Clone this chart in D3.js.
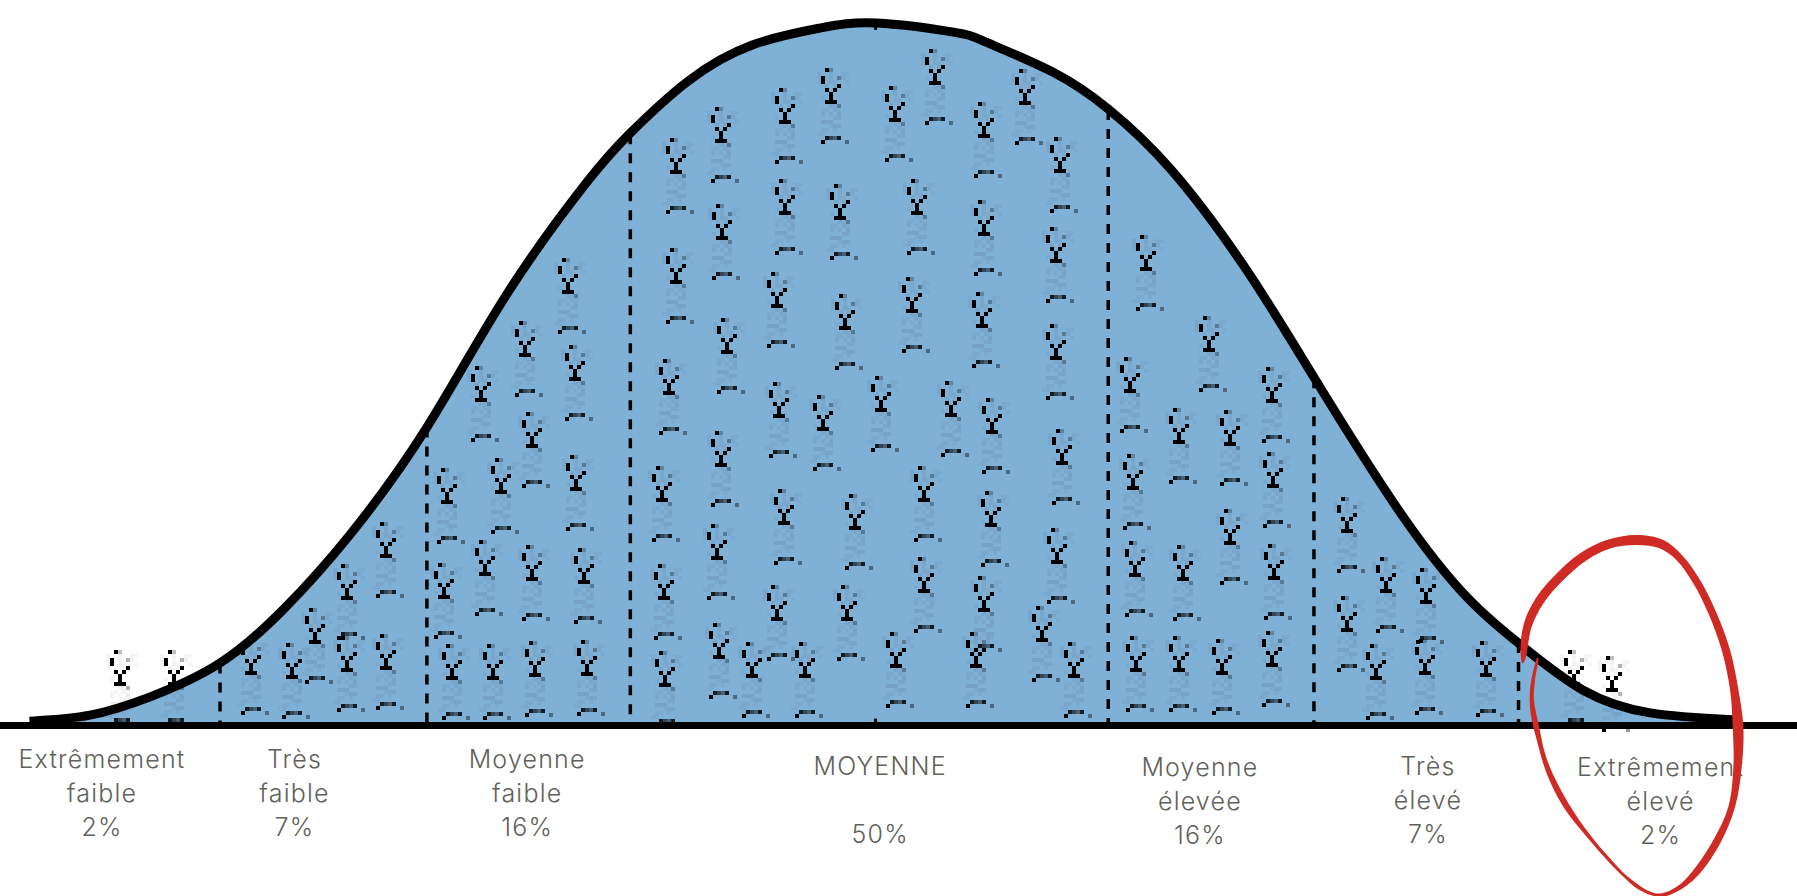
<!DOCTYPE html>
<html>
<head>
<meta charset="utf-8">
<style>
  html, body { margin: 0; background: #fff; }
  svg { display: block; }
  .label { font-family: "Inter", sans-serif; font-weight: 300; font-size: 25px; letter-spacing: 1.2px; fill: #5f6259; text-anchor: middle; }
</style>
</head>
<body>
<svg id="chart" width="1797" height="896"></svg>
<script src="https://cdn.jsdelivr.net/npm/d3@7"></script>
<script>
// bell curve (position along the axis, height above it)
const curveX = [29.7, 78.5, 131, 192, 247, 305, 373, 442, 512, 550, 600, 657, 715, 765, 832, 861, 919, 967, 1021, 1086, 1147, 1221, 1280, 1326, 1381, 1440, 1512];
const curveH = [4, 9, 25, 54.5, 101, 166, 261, 376, 474, 517, 562, 594, 608.5, 613, 605, 596, 570, 538, 486, 400, 303, 187, 112, 71, 31, 11, 5];

const sections = ["Extrêmement faible", "Très faible", "Moyenne faible", "MOYENNE", "Moyenne élevée", "Très élevé", "Extrêmement élevé"];
const shares = ["2%", "7%", "16%", "50%", "16%", "7%", "2%"];
const dashX = [192, 372.5, 550, 967, 1146.5, 1325];
const dashH = [54, 260, 516, 537, 303, 72];
const centerX = 764;

const labelLines = [["Extrêmement", "faible", "2%"], ["Très", "faible", "7%"], ["Moyenne", "faible", "16%"], ["MOYENNE", "", "50%"], ["Moyenne", "élevée", "16%"], ["Très", "élevé", "7%"], ["Extrêmement", "élevé", "2%"]];
const labelX = [89, 257, 460, 768, 1047, 1246, 1449];
const labelTop = [-37, -37, -37, -43.5, -44, -43.5, -44];

// one figure per percent: 100 figures in all
const iconX = [
  [105, 152],
  [219, 255, 275, 303, 303, 337, 337],
  [390, 387, 394, 420, 423, 430, 437, 458, 464, 464, 467, 496, 502, 503, 510, 512],
  [590, 590, 584, 578, 579, 580, 629, 630, 634, 629, 626, 627, 656, 702, 685, 685, 678, 680, 684, 678, 725, 733, 737, 718, 746, 739, 781, 800, 796, 769, 806, 806, 782, 816, 859, 859, 857, 830, 866, 865, 859, 852, 894, 925, 921, 921, 927, 922, 909, 937],
  [1000, 986, 989, 990, 991, 1055, 1029, 1032, 1029, 1073, 1073, 1066, 1110, 1111, 1112, 1110],
  [1175, 1175, 1209, 1201, 1244, 1243, 1297],
  [1373, 1407]
];
const iconH = [
  [50, 50],
  [60, 56, 87, 125, 62, 162, 64],
  [209, 126, 55, 298, 146, 55, 218, 337, 258, 142, 58, 392, 316, 220, 139, 59],
  [497, 401, 304, 211, 125, 49, 524, 439, 340, 241, 160, 74, 57, 57, 541, 461, 380, 284, 191, 107, 558, 457, 361, 273, 186, 107, 542, 461, 376, 289, 211, 131, 66, 575, 528, 443, 363, 285, 270, 189, 115, 66, 557, 498, 419, 335, 243, 157, 89, 57],
  [412, 306, 221, 145, 62, 342, 261, 142, 62, 260, 173, 60, 297, 223, 143, 67],
  [184, 97, 131, 55, 122, 60, 58],
  [50, 45]
];

// hand drawn red loop, outside edge then inside edge
const ringX = [1328.4, 1326.9, 1330.7, 1340.9, 1358.3, 1378.7, 1402, 1428.1, 1451.4, 1468.9, 1483.4, 1498, 1509.6, 1516.9, 1521.2, 1519.8, 1514, 1500.9, 1480.5, 1463, 1448.5, 1431, 1410.7, 1384.5, 1364.1, 1349.6, 1340.9, 1335.6, 1335, 1338, 1341.5,
  1342.3, 1339.4, 1338.5, 1343, 1349, 1360.5, 1378, 1401, 1424, 1445.6, 1463, 1477.6, 1495, 1508.1, 1512.5, 1511.9, 1509.6, 1502.3, 1490.7, 1477.6, 1463, 1448.5, 1428.1, 1404.9, 1384.5, 1364.1, 1346.7, 1336.5, 1330.7];
const ringH = [54.2, 71.6, 92, 112.3, 132.7, 150.2, 161.8, 166.2, 161.8, 147.3, 126.9, 97.8, 65.8, 30.9, -1.1, -36, -70.9, -102.9, -132, -145.1, -149.5, -143.7, -126.2, -97.1, -70.9, -41.8, -12.7, 10.5, 30.9, 48.3, 59.4,
  58.5, 39.6, 22.2, -1.1, -27.3, -53.5, -82.6, -111.7, -134.9, -146.6, -140.7, -126.2, -100, -70.9, -36, -1.1, 30.9, 65.8, 97.8, 124, 144.3, 154.5, 157.4, 154.5, 144.3, 126.9, 106.5, 86.1, 57.1];

// low-res figure: [col, row, darkness]
const sprite = [
  [2,0,1],[3,0,.25],[1,2,1],[1,3,1],[5,2,.3],[5,4,1],[2,5,1],[4,5,1],[3,6,1],[3,7,1],[2,8,1],[3,8,1],[4,8,1],[5,9,.3],
  [2,17,.85],[3,17,.6],[4,17,.45],[5,17,.85],[1,18,1],[7,18,.4],
  [0,1,.05],[3,1,.05],[6,1,.04],[7,1,.03],[0,2,.05],[3,2,.04],[6,2,.05],[0,3,.04],[3,3,.05],[4,3,.04],[7,3,.03],[2,4,.05],[4,4,.04],[1,7,.04],
  [3,9,.05],[4,9,.04],[1,10,.03],[2,10,.03],[4,10,.05],[5,10,.03],[1,11,.05],[3,11,.04],[5,11,.07],[4,12,.05],[5,12,.05],[1,13,.07],[2,13,.07],[3,13,.07],[3,14,.03],[4,14,.06],[5,14,.06],[1,15,.04],[2,15,.04],[4,15,.03],[0,16,.03],[1,16,.04]
];

const svg = d3.select("#chart");
const x = d3.scaleLinear().domain([0, 1568]).range([0, 1797]);
const y = d3.scaleLinear().domain([0, 613]).range([725.5, 23]);
const px = 4;

const points = curveX.map((d, i) => [d, curveH[i]]);

svg.append("path")
  .attr("fill", "#7fb0d6")
  .attr("d", d3.area().x(d => x(d[0])).y0(y(0)).y1(d => y(d[1])).curve(d3.curveNatural)(points));

dashX.forEach((d, i) => {
  svg.append("line")
    .attr("x1", x(d)).attr("x2", x(d))
    .attr("y1", y(dashH[i])).attr("y2", y(0))
    .attr("stroke", "#000").attr("stroke-width", 3.5)
    .attr("stroke-dasharray", "10,9");
});

// figures
iconX.forEach((xs, s) => {
  const group = svg.append("g").attr("class", "section").attr("data-name", sections[s]).attr("data-share", shares[s]);
  xs.forEach((d, i) => {
    const g = group.append("g")
      .attr("transform", `translate(${x(d) - 3.5 * px},${y(iconH[s][i]) - 4.5 * px})`);
    g.selectAll("rect")
      .data(sprite)
      .join("rect")
      .attr("x", p => p[0] * px)
      .attr("y", p => p[1] * px)
      .attr("width", px)
      .attr("height", px)
      .attr("shape-rendering", "crispEdges")
      .attr("fill", "#000")
      .attr("opacity", p => p[2]);
  });
});

svg.append("path")
  .attr("fill", "none")
  .attr("stroke", "#000")
  .attr("stroke-width", 9)
  .attr("stroke-linecap", "square")
  .attr("d", d3.line().x(d => x(d[0])).y(d => y(d[1])).curve(d3.curveNatural)(points));

// baseline and the two little centre marks
svg.append("line")
  .attr("x1", 0).attr("x2", 1797)
  .attr("y1", y(0)).attr("y2", y(0))
  .attr("stroke", "#000").attr("stroke-width", 7);
[[0, 6], [607, 613]].forEach(m => {
  svg.append("line")
    .attr("x1", x(centerX)).attr("x2", x(centerX))
    .attr("y1", y(m[0])).attr("y2", y(m[1]))
    .attr("stroke", "#000").attr("stroke-width", 3);
});

labelLines.forEach((lines, i) => {
  lines.forEach((t, j) => {
    svg.append("text")
      .attr("class", "label")
      .attr("x", x(labelX[i]))
      .attr("y", y(labelTop[i]) + j * 34)
      .text(t);
  });
});

svg.append("path")
  .attr("fill", "#cf2a24")
  .attr("d", d3.line().x((d, i) => x(ringX[i])).y((d, i) => y(ringH[i])).curve(d3.curveCatmullRomClosed)(ringX));
</script>
</body>
</html>
